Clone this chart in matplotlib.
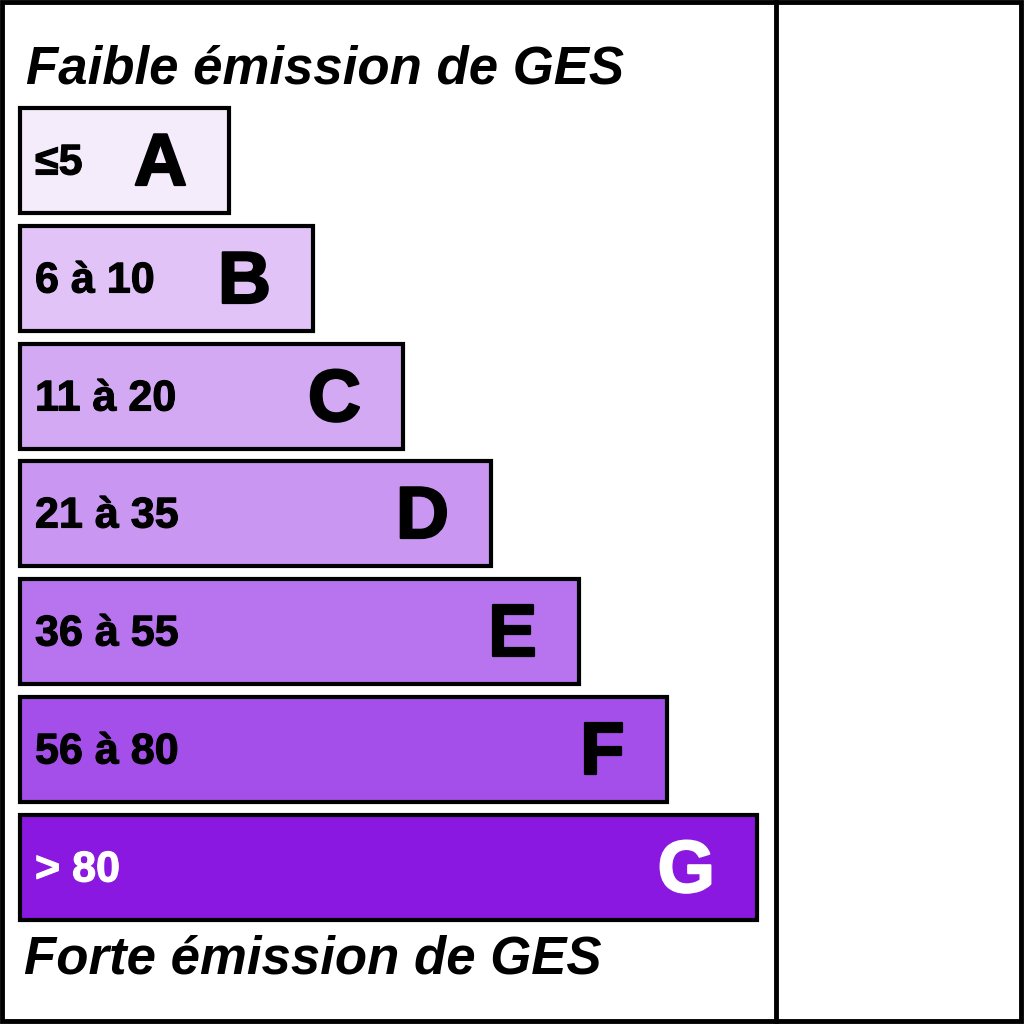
import matplotlib
matplotlib.use("Agg")
import matplotlib.pyplot as plt
from matplotlib.patches import Rectangle
import matplotlib.patheffects as pe

# Data
classes = ["A", "B", "C", "D", "E", "F", "G"]
ranges = ["≤5", "6 à 10", "11 à 20", "21 à 35", "36 à 55", "56 à 80", "> 80"]
bar_lengths = [209, 293, 383, 471, 559, 647, 737]
colors = ["#F4EBFB", "#E1C3F7", "#D4A9F3", "#C996F1", "#B774EE", "#A44FEA", "#8A18E0"]
text_colors = ["black"] * 6 + ["white"]
top_label = "Faible émission de GES"
bottom_label = "Forte émission de GES"

fig = plt.figure(figsize=(10.24, 10.24), dpi=100)
ax = fig.add_axes([0, 0, 1, 1])
ax.set_xlim(0, 1024)
ax.set_ylim(1024, 0)
ax.axis("off")

fam = ["Liberation Sans", "DejaVu Sans"]

# outer frame and divider
ax.add_patch(Rectangle((2, 2), 1019, 1019, fill=False, lw=3.5, ec="black"))
ax.plot([776, 776], [2, 1021], color="black", lw=3.5)

y_top = [108, 226, 344, 461, 579, 697, 815]
bh = 105
ax.barh([y + bh / 2 for y in y_top], bar_lengths, height=bh, left=20,
        color=colors, edgecolor="black", linewidth=3)

for i, (c, r, L) in enumerate(zip(classes, ranges, bar_lengths)):
    yc = y_top[i] + bh / 2
    ax.text(35, yc + 3, r, fontsize=31, fontweight="bold", family=fam,
            color=text_colors[i], ha="left", va="center",
            path_effects=[pe.withStroke(linewidth=0.8, foreground=text_colors[i])])
    ax.text(20 + L - 42, yc + 5, c, fontsize=53, fontweight="bold", family=fam,
            color=text_colors[i], ha="right", va="center",
            path_effects=[pe.withStroke(linewidth=1.6, foreground=text_colors[i])])

ax.text(26, 83, top_label, fontsize=38, fontweight="bold", style="italic",
        family=fam, ha="left", va="baseline")
ax.text(24, 974, bottom_label, fontsize=38, fontweight="bold", style="italic",
        family=fam, ha="left", va="baseline")

fig.savefig("out.png", dpi=100)
